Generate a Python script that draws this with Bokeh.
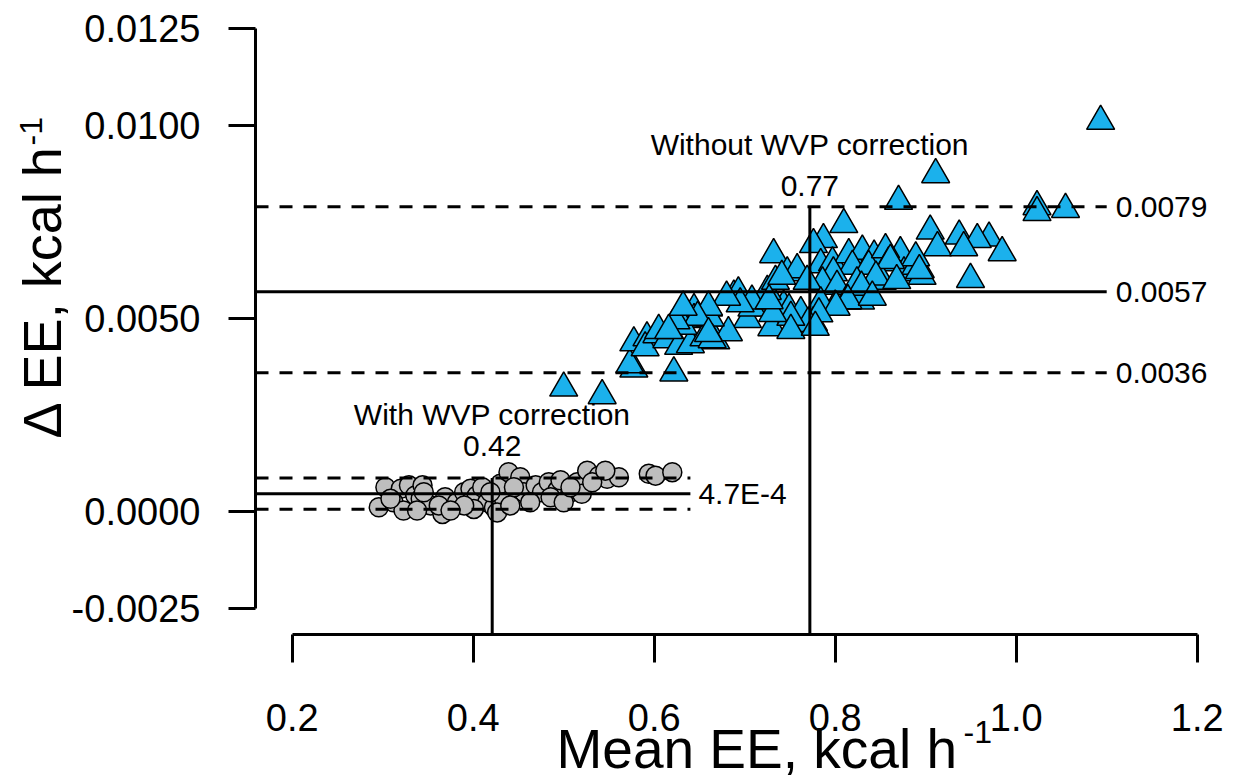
import math
from bokeh.plotting import figure
from bokeh.models import Range1d, FixedTicker, Label
from bokeh.embed import file_html
from bokeh.resources import INLINE

# ---------------- data ----------------
# Without WVP correction (triangles): mean EE (kcal/h) and delta EE (kcal/h)
without_x = [0.500, 0.5425, 0.5775, 0.573, 0.6217, 0.5775, 0.592, 0.590, 0.603, 0.620,
             0.614, 0.627, 0.640, 0.644, 0.660, 0.644, 0.659, 0.632, 0.655, 0.668,
             0.8095, 0.787, 0.776, 0.732, 0.747, 0.758, 0.784, 0.797, 0.815, 0.830,
             0.843, 0.819, 0.837, 0.798, 0.786, 0.769, 0.802, 0.824, 0.843, 0.800,
             0.784, 0.813, 0.828, 0.743, 0.728, 0.730, 0.703, 0.682, 0.662, 0.688,
             0.693, 0.725, 0.708, 0.749, 0.761, 0.776, 0.664, 0.734, 0.741, 0.708,
             0.762, 1.0933, 0.911, 0.870, 1.023, 1.023, 1.0545, 0.905, 0.937, 0.970,
             0.957, 0.9845, 0.913, 0.942, 0.9495, 0.894, 0.872, 0.8556, 0.859, 0.852,
             0.876, 0.889, 0.896, 0.889, 0.861, 0.893, 0.845, 0.829, 0.814, 0.841,
             0.868, 0.801, 0.782, 0.770, 0.751, 0.731, 0.727, 0.695, 0.680, 0.660,
             0.648, 0.660, 0.624, 0.605, 0.616, 0.632, 0.751, 0.778]
without_y = [0.00321, 0.00301, 0.00370, 0.00381, 0.00360, 0.00438, 0.00451, 0.00425, 0.00459, 0.00481,
             0.00446, 0.00429, 0.00433, 0.00524, 0.00528, 0.00498, 0.00502, 0.00481, 0.00451, 0.00443,
             0.00744, 0.00705, 0.00692, 0.00666, 0.00619, 0.00627, 0.00640, 0.00645, 0.00666, 0.00675,
             0.00662, 0.00636, 0.00636, 0.00619, 0.00593, 0.00597, 0.00584, 0.00593, 0.00597, 0.00533,
             0.00541, 0.00546, 0.00546, 0.00533, 0.00528, 0.00477, 0.00498, 0.00464, 0.00502, 0.00559,
             0.00567, 0.00571, 0.00528, 0.00524, 0.00498, 0.00490, 0.00446, 0.00597, 0.00610, 0.00546,
             0.00516, 0.01011, 0.00873, 0.00804, 0.00790, 0.00775, 0.00783, 0.00727, 0.00714, 0.00709,
             0.00705, 0.00671, 0.00684, 0.00684, 0.00602, 0.00627, 0.00671, 0.00679, 0.00645, 0.00597,
             0.00619, 0.00636, 0.00610, 0.00658, 0.00651, 0.00625, 0.00608, 0.00582, 0.00547, 0.00556,
             0.00599, 0.00530, 0.00513, 0.00488, 0.00504, 0.00514, 0.00547, 0.00539, 0.00556, 0.00530,
             0.00504, 0.00462, 0.00495, 0.00470, 0.00470, 0.00530, 0.00470, 0.00478]

# With WVP correction (circles)
with_x = [0.2957, 0.303, 0.320, 0.312, 0.329, 0.336, 0.323, 0.342, 0.344, 0.353,
          0.338, 0.366, 0.369, 0.362, 0.382, 0.390, 0.397, 0.404, 0.410, 0.4155,
          0.423, 0.434, 0.430, 0.439, 0.452, 0.456, 0.445, 0.469, 0.476, 0.4835,
          0.493, 0.4965, 0.5075, 0.515, 0.520, 0.526, 0.539, 0.548, 0.561, 0.594,
          0.6015, 0.620, 0.4007, 0.4265, 0.390, 0.375, 0.463, 0.4855, 0.500, 0.5075,
          0.5315, 0.441, 0.3086, 0.3454, 0.419, 0.546]
with_y = [0.000124, 0.00064, 0.00060, 0.00025, 0.00069, 0.00043, 0.00004, 0.00034, 0.00069, 0.00017,
          0.00004, -0.00005, 0.00038, 0.00017, 0.00025, 0.00051, 0.00060, 0.00043, 0.00064, 0.00025,
          0.00012, 0.00034, 0.00073, 0.00103, 0.00090, 0.00051, 0.00064, 0.00069, 0.00051, 0.00077,
          0.00056, 0.00082, 0.00051, 0.00077, 0.00047, 0.00107, 0.00094, 0.00086, 0.00090, 0.00099,
          0.00094, 0.00103, 0.00008, -0.00001, 0.00017, 0.00004, 0.00025, 0.00038, 0.00025, 0.00064,
          0.00077, 0.00017, 0.00034, 0.00051, 0.00051, 0.00107]

# Bland-Altman summary values
without_mean_x = 0.772
without_bias = 0.0057
without_upper = 0.0079
without_lower = 0.0036
without_line_end = 1.10
with_mean_x = 0.421
with_bias = 0.00047
with_upper = 0.00088
with_lower = 0.00007
with_line_end = 0.64

without_limit_labels = ["0.0079", "0.0057", "0.0036"]
with_bias_label = "4.7E-4"
without_mean_label = "0.77"
with_mean_label = "0.42"
without_title = "Without WVP correction"
with_title = "With WVP correction"

x_ticks = [0.2, 0.4, 0.6, 0.8, 1.0, 1.2]
x_tick_labels = ["0.2", "0.4", "0.6", "0.8", "1.0", "1.2"]
y_ticks = [-0.0025, 0.0, 0.005, 0.01, 0.0125]
y_tick_labels = ["-0.0025", "0.0000", "0.0050", "0.0100", "0.0125"]

FONT = "Liberation Sans"
BLUE = "#1BB1EC"
GREY = "#BEBEBE"

# ---------------- figure ----------------
W, H = 1242, 783
X_START, X_END = -0.12232, 1.25006
Y_START, Y_END = -0.0070246, 0.013234
YAXIS_AT = 0.15945     # x position of the (detached) y axis
XAXIS_AT = -0.00317    # y position of the (detached) x axis

p = figure(width=W, height=H,
           x_range=Range1d(X_START, X_END), y_range=Range1d(Y_START, Y_END),
           output_backend="svg", toolbar_location=None,
           min_border=0, min_border_left=0, min_border_right=0,
           min_border_top=0, min_border_bottom=0)
p.grid.visible = False
p.outline_line_color = None

for ax in (p.xaxis[0], p.yaxis[0]):
    ax.axis_line_width = 3
    ax.axis_line_color = "black"
    ax.major_tick_line_width = 3
    ax.major_tick_line_color = "black"
    ax.major_tick_in = 0
    ax.minor_tick_line_color = None
    ax.major_label_text_font = FONT
    ax.major_label_text_font_size = "38px"
    ax.major_label_text_color = "black"

xa = p.xaxis[0]
xa.ticker = FixedTicker(ticks=x_ticks)
xa.major_label_overrides = {t: l for t, l in zip(x_ticks, x_tick_labels)}
xa.bounds = (x_ticks[0], x_ticks[-1])
xa.major_tick_out = 28
xa.major_label_standoff = 41
xa.fixed_location = XAXIS_AT

ya = p.yaxis[0]
ya.ticker = FixedTicker(ticks=y_ticks)
ya.major_label_overrides = {t: l for t, l in zip(y_ticks, y_tick_labels)}
ya.bounds = (y_ticks[0], y_ticks[-1])
ya.major_tick_out = 27
ya.major_label_standoff = 28
ya.fixed_location = YAXIS_AT

# points
p.scatter(without_x, without_y, marker="triangle", size=28,
          fill_color=BLUE, line_color="black", line_width=1.5)
p.scatter(with_x, with_y, marker="circle", size=19,
          fill_color=GREY, line_color="black", line_width=1.5)

# limits of agreement (dashed) and bias (solid)
p.segment(x0=[YAXIS_AT, YAXIS_AT], y0=[without_upper, without_lower],
          x1=[without_line_end, without_line_end], y1=[without_upper, without_lower],
          line_color="black", line_width=3, line_dash="13 11")
p.segment(x0=[YAXIS_AT, YAXIS_AT], y0=[with_upper, with_lower],
          x1=[with_line_end, with_line_end], y1=[with_upper, with_lower],
          line_color="black", line_width=3, line_dash="13 11")
p.segment(x0=[YAXIS_AT, YAXIS_AT], y0=[without_bias, with_bias],
          x1=[without_line_end, with_line_end], y1=[without_bias, with_bias],
          line_color="black", line_width=3)
# vertical lines at mean EE
p.segment(x0=[without_mean_x, with_mean_x], y0=[XAXIS_AT, XAXIS_AT],
          x1=[without_mean_x, with_mean_x], y1=[without_upper, with_upper],
          line_color="black", line_width=3)

def lab(**kw):
    kw.setdefault("text_font", FONT)
    kw.setdefault("text_color", "black")
    p.add_layout(Label(**kw))

# value labels
for val, txt in zip([without_upper, without_bias, without_lower], without_limit_labels):
    lab(x=without_line_end, y=val, x_offset=9, text=txt, text_font_size="30px",
        text_baseline="middle", text_align="left")
lab(x=with_line_end, y=with_bias, x_offset=8, text=with_bias_label, text_font_size="30px",
    text_baseline="middle", text_align="left")

lab(x=without_mean_x, y=without_upper, y_offset=21, text=without_mean_label,
    text_font_size="30px", text_align="center", text_baseline="alphabetic")
lab(x=without_mean_x, y=without_upper, y_offset=62, text=without_title,
    text_font_size="30px", text_align="center", text_baseline="alphabetic")
lab(x=with_mean_x, y=with_upper, y_offset=32, text=with_mean_label,
    text_font_size="30px", text_align="center", text_baseline="alphabetic")
lab(x=with_mean_x, y=with_upper, y_offset=63, text=with_title,
    text_font_size="30px", text_align="center", text_baseline="alphabetic")

# axis titles (screen units; frame = whole canvas, origin bottom-left)
lab(x=556, y=H - 748, x_units="screen", y_units="screen",
    text="Mean EE, kcal h", text_font_size="55px",
    text_align="left", text_baseline="alphabetic")
lab(x=963, y=H - 731, x_units="screen", y_units="screen",
    text="-1", text_font_size="32px", text_align="left", text_baseline="alphabetic")
lab(x=41, y=H - 438, x_units="screen", y_units="screen", angle=math.pi / 2,
    text="\u0394 EE, kcal h", text_font_size="54px",
    text_align="left", text_baseline="alphabetic")
lab(x=30, y=H - 145, x_units="screen", y_units="screen", angle=math.pi / 2,
    text="-1", text_font_size="32px", text_align="left", text_baseline="alphabetic")

open("out.html", "w").write(file_html(p, INLINE))
